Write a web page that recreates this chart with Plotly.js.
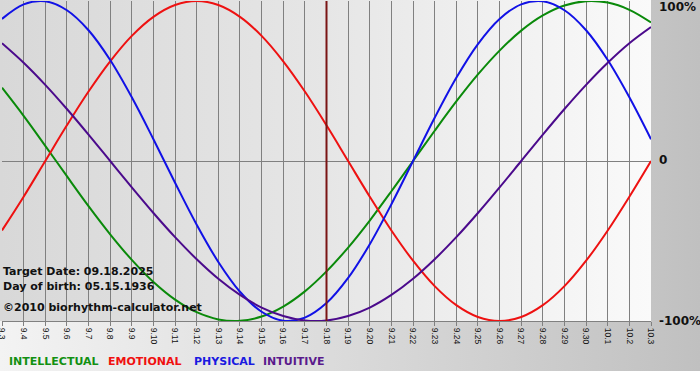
<!DOCTYPE html>
<html>
<head>
<meta charset="utf-8">
<script src="https://cdn.plot.ly/plotly-3.0.1.min.js"></script>
<style>
  html, body { margin: 0; padding: 0; background: #ffffff; }
  #wrap { position: relative; width: 700px; height: 380px; overflow: hidden; }
  #outerbg { position: absolute; left: 0; top: 0; width: 700px; height: 371px;
    background: linear-gradient(to right, #f3f3f3 0px, #c4c4c4 651px, #c0c0c0 700px); }
  #plotbg { position: absolute; left: 0; top: 0; width: 651px; height: 321px;
    background: linear-gradient(to right, #d8d8d8 0%, #e6e6e6 50%, #fafafa 100%); }
  #chart { position: absolute; left: 0; top: 0; width: 700px; height: 380px; }
</style>
</head>
<body>
<div id="wrap">
  <div id="outerbg"></div>
  <div id="plotbg"></div>
  <div id="chart"></div>
</div>
<script>
// ---- data (percent values) ----
const dates = ['9.3','9.4','9.5','9.6','9.7','9.8','9.9','9.10','9.11','9.12','9.13','9.14','9.15','9.16','9.17','9.18','9.19','9.20','9.21','9.22','9.23','9.24','9.25','9.26','9.27','9.28','9.29','9.30','10.1','10.2','10.3'];
const intellectual = [45.8, 28.2, 9.5, -9.5, -28.2, -45.8, -61.8, -75.6, -86.6, -94.5, -99.0, -99.9, -97.2, -91.0, -81.5, -69.0, -54.1, -37.2, -18.9, 0, 18.9, 37.2, 54.1, 69.0, 81.5, 91.0, 97.2, 99.9, 99.0, 94.5, 86.6];
const emotional = [-43.4, -22.3, 0, 22.3, 43.4, 62.3, 78.2, 90.1, 97.5, 100, 97.5, 90.1, 78.2, 62.3, 43.4, 22.3, 0, -22.3, -43.4, -62.3, -78.2, -90.1, -97.5, -100, -97.5, -90.1, -78.2, -62.3, -43.4, -22.3, 0];
const physical = [88.8, 97.9, 99.8, 94.2, 81.7, 63.1, 39.8, 13.6, -13.6, -39.8, -63.1, -81.7, -94.2, -99.8, -97.9, -88.8, -73.1, -52.0, -27.0, 0, 27.0, 52.0, 73.1, 88.8, 97.9, 99.8, 94.2, 81.7, 63.1, 39.8, 13.6];
const intuitive = [73.6, 61.4, 47.6, 32.5, 16.5, 0, -16.5, -32.5, -47.6, -61.4, -73.6, -83.7, -91.6, -96.9, -99.7, -99.7, -96.9, -91.6, -83.7, -73.6, -61.4, -47.6, -32.5, -16.5, 0, 16.5, 32.5, 47.6, 61.4, 73.6, 83.7];
const targetDate = '9.18';
const seriesNames = ['INTELLECTUAL', 'EMOTIONAL', 'PHYSICAL', 'INTUITIVE'];
const yTickVals = [100, 0, -100];
const yTickText = ['100%', '0', '-100%'];
const infoLines = ['Target Date: 09.18.2025', 'Day of birth: 05.15.1936', '\u00A92010 biorhythm-calculator.net'];

// ---- styling ----
const colors = ['#0a8a0a', '#ee1111', '#1111e6', '#4b0a8c'];
const legendColors = ['#129012', '#f01010', '#1a1ae0', '#5a1a8c'];
const M = { l: 2, r: 49, t: 1, b: 59 };
const W = 700, H = 380;
const PW = W - M.l - M.r, PH = H - M.t - M.b;
const px = x => (x - M.l) / PW;
const py = y => 1 - (y - M.t) / PH;

const allSeries = [intellectual, emotional, physical, intuitive];
const traces = allSeries.map((s, k) => ({
  x: dates, y: s, type: 'scatter', mode: 'lines', name: seriesNames[k],
  line: { color: colors[k], width: 2, shape: 'spline', smoothing: 1 },
  hoverinfo: 'skip'
}));

const ti = dates.indexOf(targetDate);
const shapes = [{
  type: 'line', xref: 'x', yref: 'paper', x0: ti, x1: ti, y0: 0, y1: 1,
  line: { color: '#7a1414', width: 2 }, layer: 'above'
}];

const boldFont = (sz, col) => ({ family: 'DejaVu Sans', size: sz, color: col || '#111' , weight: 'bold'});
const annotations = [];
// right-side percent labels
const rightY = [7, 160, 321];
yTickText.forEach((t, i) => {
  annotations.push({ xref: 'paper', yref: 'paper', x: px(657), y: py(rightY[i]),
    xanchor: 'left', yanchor: 'middle', text: '<b>' + t + '</b>', showarrow: false,
    font: { family: 'DejaVu Sans', size: 12, color: '#111' } });
});
// info text lines
const infoY = [271, 286, 307];
infoLines.forEach((t, i) => {
  annotations.push({ xref: 'paper', yref: 'paper', x: px(1), y: py(infoY[i]),
    xanchor: 'left', yanchor: 'middle', text: '<b>' + t + '</b>', showarrow: false,
    font: { family: 'DejaVu Sans', size: 11, color: '#111' } });
});
// legend words
const legX = [7, 106, 192, 261];
seriesNames.forEach((t, i) => {
  annotations.push({ xref: 'paper', yref: 'paper', x: px(legX[i]), y: py(361),
    xanchor: 'left', yanchor: 'middle', text: '<b>' + t + '</b>', showarrow: false,
    font: { family: 'DejaVu Sans', size: 11, color: legendColors[i] } });
});

const layout = {
  width: W, height: H, margin: M,
  paper_bgcolor: 'rgba(0,0,0,0)', plot_bgcolor: 'rgba(0,0,0,0)',
  showlegend: false,
  xaxis: {
    type: 'category', range: [0, dates.length - 1], fixedrange: true,
    showgrid: true, gridcolor: '#808080', gridwidth: 1,
    ticks: 'outside', ticklen: 4, tickcolor: '#808080', tickwidth: 1,
    tickangle: 90, tickfont: { family: 'Liberation Sans', size: 8.5, color: '#111' },
    showline: true, linecolor: '#808080', linewidth: 1, zeroline: false
  },
  yaxis: {
    range: [-100, 100], fixedrange: true, showgrid: false,
    tickvals: yTickVals, showticklabels: false, ticks: '',
    zeroline: true, zerolinecolor: '#808080', zerolinewidth: 1, showline: false
  },
  shapes: shapes,
  annotations: annotations
};

Plotly.newPlot('chart', traces, layout, { staticPlot: true, displayModeBar: false });
</script>
</body>
</html>
